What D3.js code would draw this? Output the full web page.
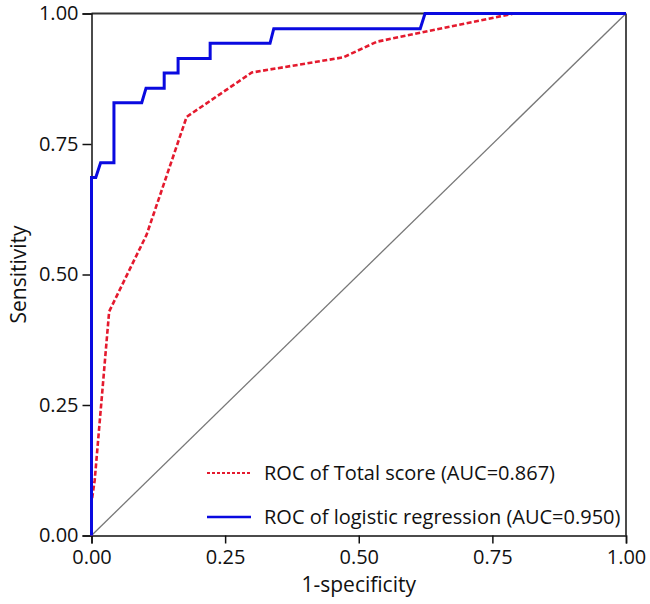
<!DOCTYPE html>
<html>
<head>
<meta charset="UTF-8">
<script src="https://cdn.jsdelivr.net/npm/d3@7"></script>
<style>
  body { margin: 0; background: #fff; }
  svg text { font-family: "Open Sans", sans-serif; fill: #111; }
</style>
</head>
<body>
<div id="chart"></div>
<script>
// ROC points
const redFpr = [0, 0, 0.006, 0.033, 0.103, 0.178, 0.300, 0.471, 0.534, 0.790, 1]
const redTpr = [0, 0.063, 0.106, 0.429, 0.576, 0.802, 0.887, 0.916, 0.946, 1, 1]

const blueFpr = [0, 0, 0.008, 0.017, 0.042, 0.042, 0.094, 0.102, 0.136, 0.136, 0.162, 0.162, 0.222, 0.222, 0.334, 0.341, 0.615, 0.624, 1]
const blueTpr = [0, 0.686, 0.686, 0.714, 0.714, 0.829, 0.829, 0.857, 0.857, 0.886, 0.886, 0.914, 0.914, 0.943, 0.943, 0.971, 0.971, 1, 1]

const ticks = [0, 0.25, 0.5, 0.75, 1]
const legendLabels = ['ROC of Total score (AUC=0.867)', 'ROC of logistic regression (AUC=0.950)']

const W = 650, H = 604
const m = {top: 13.5, right: 24, bottom: 68.5, left: 91.5}

const svg = d3.select('#chart').append('svg').attr('width', W).attr('height', H)

const x = d3.scaleLinear().domain([0, 1]).range([m.left, W - m.right])
const y = d3.scaleLinear().domain([0, 1]).range([H - m.bottom, m.top])

// frame top / right
svg.append('line').attr('x1', x(0)).attr('x2', x(1)).attr('y1', y(1)).attr('y2', y(1))
    .style('stroke', '#333').style('stroke-width', 2)
svg.append('line').attr('x1', x(1)).attr('x2', x(1)).attr('y1', y(1)).attr('y2', y(0))
    .style('stroke', '#111').style('stroke-width', 1.5)

const fmt = d3.format('.2f')
const xAxis = svg.append('g').attr('transform', `translate(0,${y(0)})`)
    .call(d3.axisBottom(x).tickValues(ticks).tickFormat(fmt).tickSize(8).tickPadding(6))
const yAxis = svg.append('g').attr('transform', `translate(${x(0)},0)`)
    .call(d3.axisLeft(y).tickValues(ticks).tickFormat(fmt).tickSize(9).tickPadding(4))

svg.selectAll('.domain').style('stroke', '#111').style('stroke-width', 1.5)
svg.selectAll('.tick line').style('stroke', '#111').style('stroke-width', 1.5)
svg.selectAll('.tick text').style('font-size', '20px').style('fill', '#111')

svg.append('text').text('1-specificity').attr('x', (x(0) + x(1)) / 2).attr('y', 592)
    .style('text-anchor', 'middle').style('font-size', '21px')
svg.append('text').text('Sensitivity')
    .attr('transform', `translate(26,${(y(0) + y(1)) / 2}) rotate(-90)`)
    .style('text-anchor', 'middle').style('font-size', '21px')

// chance line
svg.append('line').attr('x1', x(0)).attr('y1', y(0)).attr('x2', x(1)).attr('y2', y(1))
    .style('stroke', '#777').style('stroke-width', 1.3)

const line = d3.line().x(d => x(d[0])).y(d => y(d[1]))

svg.append('path').datum(redFpr.map((v, i) => [v, redTpr[i]]))
    .attr('d', line).style('fill', 'none')
    .style('stroke', '#e41a2e').style('stroke-width', 2.6).style('stroke-dasharray', '5,2.5')

svg.append('path').datum(blueFpr.map((v, i) => [v, blueTpr[i]]))
    .attr('d', line).style('fill', 'none')
    .style('stroke', '#0a0ae0').style('stroke-width', 3)

// legend
const legend = svg.append('g')
const styles = [
    {stroke: '#e41a2e', dash: '3,2', width: 2.2},
    {stroke: '#0a0ae0', dash: null, width: 2.6}
]
legendLabels.forEach((lab, i) => {
    const ly = 473 + i * 44
    legend.append('line').attr('x1', 207).attr('x2', 251).attr('y1', ly).attr('y2', ly)
        .style('stroke', styles[i].stroke).style('stroke-width', styles[i].width)
        .style('stroke-dasharray', styles[i].dash)
    legend.append('text').text(lab).attr('x', 264).attr('y', ly + 7)
        .style('font-size', '20px')
})
</script>
</body>
</html>
